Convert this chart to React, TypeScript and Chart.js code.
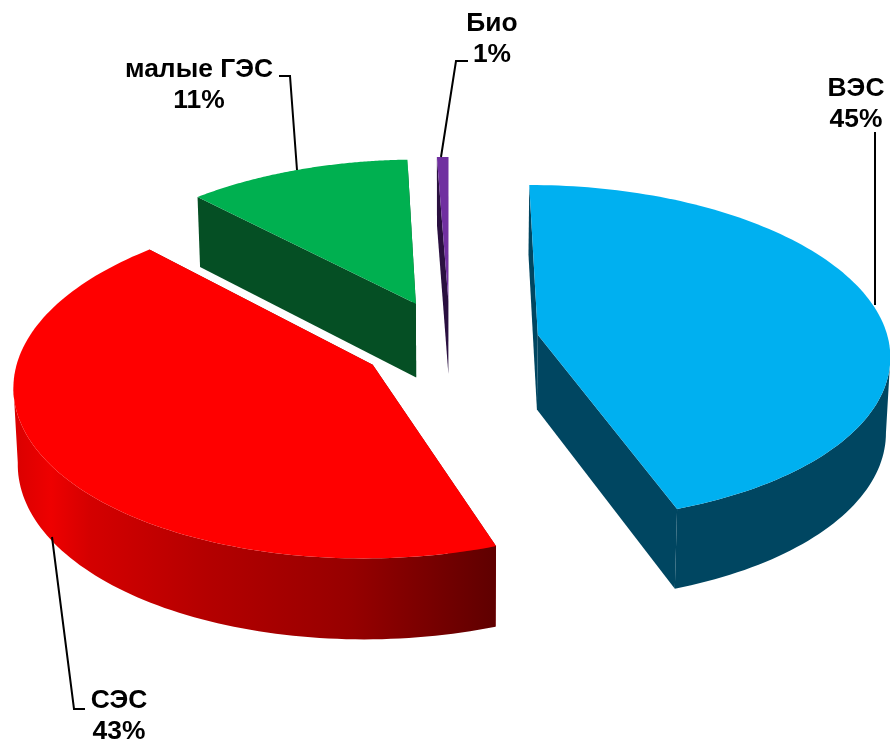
import React, { useEffect, useRef } from "react";
import { Chart, registerables } from "chart.js";

Chart.register(...registerables);

const categories = ["ВЭС", "СЭС", "малые ГЭС", "Био"];
const percentLabels = ["45%", "43%", "11%", "1%"];
const shares = [44.6, 43.2, 11.6, 0.6];
const topColors = ["#00B0F0", "#FF0000", "#00B050", "#7030A0"];
const wallColors = ["#004661", "#8a0000", "#054F24", "#2A1040"];

// projection of the pie plane
const CX = 450, CY = 342, RX = 351, RY = 167.5, K = 0.108, DEPTH = 75, DEPTH_TILT = 0.07, SHRINK = 0.99;

const labelLayout = [
  { x: 856, y1: 96, y2: 127, line: [[875, 132], [875, 305]] },
  { x: 119, y1: 708, y2: 739, line: [[85, 709], [74, 709], [52, 537]] },
  { x: 199, y1: 77, y2: 108, line: [[279, 76], [290, 76], [297, 170]] },
  { x: 492, y1: 31, y2: 62, line: [[468, 61], [456, 61], [441, 157]] },
];

const project = (u: number, v: number, low: boolean) => {
  const w = 1 / (1 - K * v);
  return {
    x: CX + RX * u * w * (low ? SHRINK : 1),
    y: CY + RY * v * w + (low ? DEPTH * (1 + DEPTH_TILT * v) : 0),
  };
};

const pie3d = {
  id: "pie3d",
  beforeDatasetsDraw(chart: any) {
    const ctx = chart.ctx as CanvasRenderingContext2D;
    const arcs = chart.getDatasetMeta(0).data;
    const order = [2, 3, 0, 1];
    for (const i of order) {
      const arc = arcs[i];
      const s = arc.startAngle, e = arc.endAngle, mid = (s + e) / 2;
      const off = arc.options.offset / arc.outerRadius;
      const ou = off * Math.cos(mid), ov = off * Math.sin(mid);
      const N = 120;
      const rim: { u: number; v: number }[] = [];
      for (let n = 0; n <= N; n++) {
        const a = s + ((e - s) * n) / N;
        rim.push({ u: ou + Math.cos(a), v: ov + Math.sin(a) });
      }
      const poly = (pts: { x: number; y: number }[], fill: any) => {
        ctx.beginPath();
        pts.forEach((p, idx) => (idx ? ctx.lineTo(p.x, p.y) : ctx.moveTo(p.x, p.y)));
        ctx.closePath();
        ctx.fillStyle = fill;
        ctx.fill();
      };
      const wallFill = (): any => {
        if (i !== 1) return wallColors[i];
        const g = ctx.createLinearGradient(12, 0, 498, 0);
        g.addColorStop(0, "#d80000");
        g.addColorStop(0.08, "#ee0000");
        g.addColorStop(0.16, "#d40000");
        g.addColorStop(0.4, "#b40000");
        g.addColorStop(0.7, "#960000");
        g.addColorStop(1, "#5e0000");
        return g;
      };
      const a0 = project(ou, ov, false), a1 = project(ou, ov, true);
      const first = rim[0], last = rim[N];
      // radial walls
      poly([a0, project(first.u, first.v, false), project(first.u, first.v, true), a1], wallColors[i]);
      poly([a0, project(last.u, last.v, false), project(last.u, last.v, true), a1], wallColors[i]);
      // outer wall: only the segments that face the viewer
      const top: any[] = [], bottom: any[] = [];
      for (let n = 0; n <= N; n++) {
        const p = project(rim[n].u, rim[n].v, false);
        const prev = n > 0 ? project(rim[n - 1].u, rim[n - 1].v, false) : null;
        const next = n < N ? project(rim[n + 1].u, rim[n + 1].v, false) : null;
        const facing = (prev && prev.x > p.x) || (next && p.x > next.x);
        if (facing) {
          top.push(p);
          bottom.unshift(project(rim[n].u, rim[n].v, true));
        }
      }
      if (top.length > 1) poly([...top, ...bottom], wallFill());
      // top face
      poly([a0, ...rim.map((r) => project(r.u, r.v, false))], arc.options.backgroundColor);
    }
    return false;
  },
  afterDraw(chart: any) {
    const ctx = chart.ctx as CanvasRenderingContext2D;
    ctx.save();
    ctx.fillStyle = "#000";
    ctx.strokeStyle = "#000";
    ctx.lineWidth = 2;
    ctx.font = "bold 26.4px 'Liberation Sans', Arial, sans-serif";
    ctx.textAlign = "center";
    ctx.textBaseline = "alphabetic";
    chart.data.labels.forEach((name: string, i: number) => {
      const l = labelLayout[i];
      ctx.fillText(name, l.x, l.y1);
      ctx.fillText(percentLabels[i], l.x, l.y2);
      ctx.beginPath();
      l.line.forEach((p, idx) => (idx ? ctx.lineTo(p[0], p[1]) : ctx.moveTo(p[0], p[1])));
      ctx.stroke();
    });
    ctx.restore();
  },
};

export default function App() {
  const ref = useRef<HTMLCanvasElement>(null);
  useEffect(() => {
    document.body.style.margin = "0";
    const chart = new Chart(ref.current!, {
      type: "pie",
      data: {
        labels: categories,
        datasets: [
          {
            data: shares,
            backgroundColor: topColors,
            borderWidth: 0,
            offset: 84,
          },
        ],
      },
      options: {
        animation: false,
        responsive: false,
        rotation: 0,
        layout: { padding: 0 },
        plugins: { legend: { display: false }, tooltip: { enabled: false } },
      },
      plugins: [pie3d],
    } as any);
    return () => chart.destroy();
  }, []);
  return (
    <div style={{ position: "fixed", left: 0, top: 0, width: 890, height: 743, background: "#fff" }}>
      <canvas ref={ref} width={890} height={743} style={{ display: "block" }} />
    </div>
  );
}
